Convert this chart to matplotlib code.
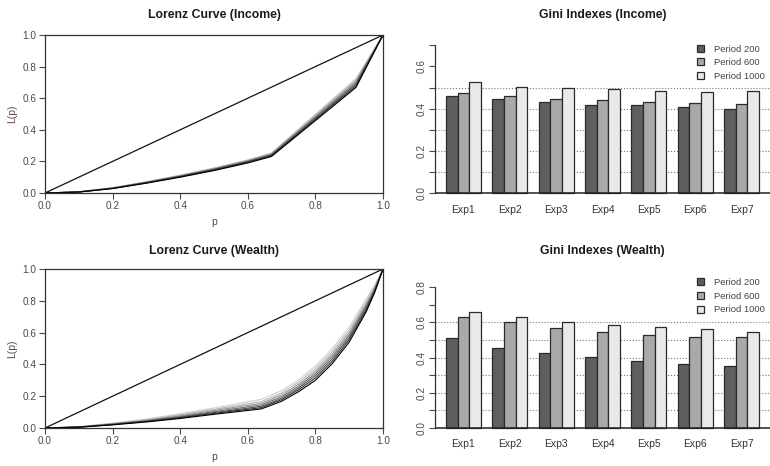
import numpy as np
import matplotlib
matplotlib.use('Agg')
import matplotlib.pyplot as plt

plt.rcParams['font.family'] = ['Liberation Sans', 'DejaVu Sans']

inc_p = [0, 0.1, 0.2, 0.3, 0.4, 0.5, 0.6, 0.67, 0.92, 1.0]
inc_L = [
    [0, 0.006, 0.028, 0.062, 0.100, 0.142, 0.190, 0.231, 0.668, 1],
    [0, 0.006, 0.029, 0.064, 0.103, 0.146, 0.195, 0.236, 0.678, 1],
    [0, 0.007, 0.030, 0.066, 0.105, 0.149, 0.198, 0.240, 0.688, 1],
    [0, 0.007, 0.031, 0.067, 0.107, 0.151, 0.201, 0.243, 0.697, 1],
    [0, 0.007, 0.032, 0.069, 0.109, 0.154, 0.204, 0.247, 0.706, 1],
    [0, 0.008, 0.033, 0.070, 0.111, 0.156, 0.207, 0.250, 0.715, 1],
    [0, 0.008, 0.034, 0.072, 0.113, 0.159, 0.210, 0.254, 0.725, 1],
]

wea_p = [0, 0.1, 0.2, 0.3, 0.4, 0.5, 0.64, 0.7, 0.75, 0.8, 0.85, 0.9, 0.95, 0.975, 1.0]
wea_L = [
    [0, .005, .020, .038, .060, .086, .120, .168, .228, .300, .405, .540, .730, .850, 1],
    [0, .005, .021, .041, .064, .092, .128, .178, .240, .315, .420, .556, .742, .857, 1],
    [0, .006, .023, .043, .068, .097, .136, .187, .251, .330, .435, .570, .755, .863, 1],
    [0, .006, .024, .045, .072, .103, .145, .197, .262, .343, .450, .584, .767, .870, 1],
    [0, .007, .026, .048, .077, .110, .155, .208, .274, .356, .465, .598, .778, .877, 1],
    [0, .007, .028, .052, .083, .117, .166, .220, .287, .372, .482, .615, .793, .886, 1],
    [0, .008, .030, .056, .090, .126, .180, .235, .302, .390, .500, .635, .810, .897, 1],
]

# Gini indexes
experiments = ['Exp1', 'Exp2', 'Exp3', 'Exp4', 'Exp5', 'Exp6', 'Exp7']
periods = ['Period 200', 'Period 600', 'Period 1000']
gini_income = [
    [0.458, 0.445, 0.431, 0.417, 0.415, 0.409, 0.400],
    [0.474, 0.461, 0.445, 0.442, 0.433, 0.428, 0.422],
    [0.528, 0.502, 0.498, 0.493, 0.485, 0.479, 0.482],
]
gini_wealth = [
    [0.509, 0.454, 0.425, 0.406, 0.382, 0.363, 0.350],
    [0.630, 0.601, 0.569, 0.548, 0.529, 0.516, 0.516],
    [0.658, 0.630, 0.605, 0.586, 0.575, 0.563, 0.543],
]

curve_cols = ['#000000', '#2e2e2e', '#525252', '#747474', '#969696', '#b4b4b4', '#cfcfcf']
bar_cols = ['#5f5f5f', '#a9a9a9', '#e9e9e9']
tick_col = '#4a4a4a'

W, H = 770, 466
fig = plt.figure(figsize=(W / 100, H / 100), dpi=100)


def px_axes(x0, x1, y0, y1):
    # y0 = top pixel, y1 = bottom pixel
    return fig.add_axes([x0 / W, 1 - y1 / H, (x1 - x0) / W, (y1 - y0) / H])


def lorenz(ax, p, curves, title, ty):
    for L, c in zip(curves[::-1], curve_cols[::-1]):
        ax.plot(p, L, color=c, lw=0.8)
    ax.plot([0, 1], [0, 1], color='#111111', lw=0.9)
    ax.set_xlim(0, 1)
    ax.set_ylim(0, 1)
    ticks = [0, 0.2, 0.4, 0.6, 0.8, 1.0]
    ax.set_xticks(ticks)
    ax.set_yticks(ticks)
    ax.set_xticklabels(['%.1f' % t for t in ticks])
    ax.set_yticklabels(['%.1f' % t for t in ticks])
    ax.tick_params(labelsize=7.2, colors=tick_col, length=4, width=0.8, pad=2)
    for s in ax.spines.values():
        s.set_color('#333333')
        s.set_linewidth(0.9)
    ax.set_xlabel('p', fontsize=7.5, color=tick_col, labelpad=4)
    ax.set_ylabel('L(p)', fontsize=7.5, color='#5a4a48', labelpad=4)
    fig.text((45 + 383) / 2 / W, 1 - ty / H, title, ha='center', va='center',
             fontsize=8.8, fontweight='bold', color='#1a1a1a')


def gini(ax, vals, ymax, grid_top, title, ty, leg_top):
    x = np.arange(len(experiments))
    for j in range(3):
        ax.bar(1.5 + 4 * x + j, vals[j], width=1, color=bar_cols[j],
               edgecolor='#2a2a2a', lw=0.9, zorder=3, label=periods[j])
    for g in np.arange(0.1, grid_top + 0.001, 0.1):
        ax.axhline(g, color='#777777', ls=':', lw=0.8, zorder=1)
    ax.axhline(0, color='#222222', lw=1.1, zorder=4)
    ax.set_xlim(0.05, 28.95)
    ax.set_ylim(-0.04 * ymax, ymax * 1.04)
    for s in ['top', 'right', 'bottom']:
        ax.spines[s].set_visible(False)
    ax.spines['left'].set_bounds(0, ymax)
    ax.spines['left'].set_color('#333333')
    ax.spines['left'].set_linewidth(0.9)
    yt = np.round(np.arange(0, ymax + 0.001, 0.1), 1)
    ax.set_yticks(yt)
    ax.set_yticklabels(['%.1f' % t if round(t * 10) % 2 == 0 else '' for t in yt],
                       rotation=90, va='center')
    ax.tick_params(axis='y', labelsize=7.2, colors=tick_col, length=4, width=0.8, pad=2)
    ax.set_xticks(2.5 + 4 * x)
    ax.set_xticklabels(experiments)
    ax.tick_params(axis='x', length=0, labelsize=7.5, colors='#333333', pad=4)
    ax.legend(loc='upper left', bbox_to_anchor=(697 / W, 1 - leg_top / H),
              bbox_transform=fig.transFigure, frameon=False, fontsize=6.8,
              handlelength=0.75, handleheight=0.75, handletextpad=1.0,
              labelspacing=0.5, borderpad=0, borderaxespad=0,
              labelcolor='#444444')
    fig.text((435 + 770) / 2 / W, 1 - ty / H, title, ha='center', va='center',
             fontsize=8.8, fontweight='bold', color='#1a1a1a')


ax1 = px_axes(45, 383, 35, 193)
lorenz(ax1, inc_p, inc_L, 'Lorenz Curve (Income)', 15)
ax3 = px_axes(45, 383, 269, 428)
lorenz(ax3, wea_p, wea_L, 'Lorenz Curve (Wealth)', 251)

ax2 = px_axes(435, 770, 39.4, 199)
gini(ax2, gini_income, 0.7, 0.5, 'Gini Indexes (Income)', 15, 44.5)
ax4 = px_axes(435, 770, 281.6, 433.6)
gini(ax4, gini_wealth, 0.8, 0.6, 'Gini Indexes (Wealth)', 251, 278)

fig.savefig('out.png', dpi=100)
